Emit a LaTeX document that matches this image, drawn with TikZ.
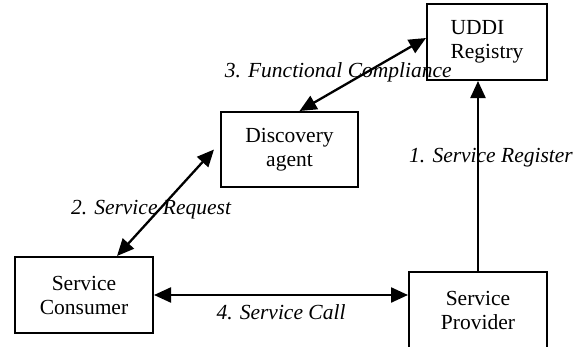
\documentclass[tikz,border=0pt]{standalone}
\usepackage{fontspec}
\setmainfont{Liberation Serif}
\usetikzlibrary{arrows.meta}

\begin{document}
\begin{tikzpicture}
		[
		x=1pt, y={(0pt,-1pt)}, font=\fontsize{21.5}{24}\selectfont,
		>={Triangle[length=17pt, width=15pt]},
		%Kasten und Pfeile
		box/.style={draw, line width=2pt, rectangle, inner sep=0pt, align=center},
		link/.style={line width=2.3pt},
		lbl/.style={font=\fontsize{21.5}{24}\selectfont\itshape, inner sep=0pt}
		]
		
		%Rahmen
		\useasboundingbox (0,0) rectangle (581,346);
		
		%Knoten
		\node [box, minimum width=120pt, minimum height=76pt, align=left] (registry) at (487,42) {UDDI\\Registry};
		\node [box, minimum width=137pt, minimum height=75pt] (agent) at (289.5,149.5) {Discovery\\agent};
		\node [box, minimum width=138pt, minimum height=76pt] (consumer) at (84,295) {Service\\Consumer};
		\node [box, minimum width=138pt, minimum height=76pt] (provider) at (478,310) {Service\\Provider};
		
		%1. Registrierung
		\draw [->, link] (provider.north) -- (provider.north |- registry.south) node [lbl, midway, xshift=13pt, yshift=18pt] (register) {1. Service Register};
		
		%2. Anfrage
		\draw [<->, link] ([xshift=33pt]consumer.north) -- ([xshift=-6pt]agent.west) node [lbl, midway, xshift=-14.5pt, yshift=-6.5pt] (request) {2. Service Request};
		
		%3. Abgleich
		\draw [<->, link] ([xshift=10pt]agent.north) -- ([yshift=4pt]registry.west) node [lbl, midway, xshift=-24.5pt, yshift=2pt] (compliance) {3. Functional Compliance};
		
		%4. Aufruf
		\draw [<->, link] (consumer.east) -- (provider.west |- consumer.east) node [lbl, midway, yshift=-17pt] (call) {4. Service Call};
		
	\end{tikzpicture}
\end{document}
